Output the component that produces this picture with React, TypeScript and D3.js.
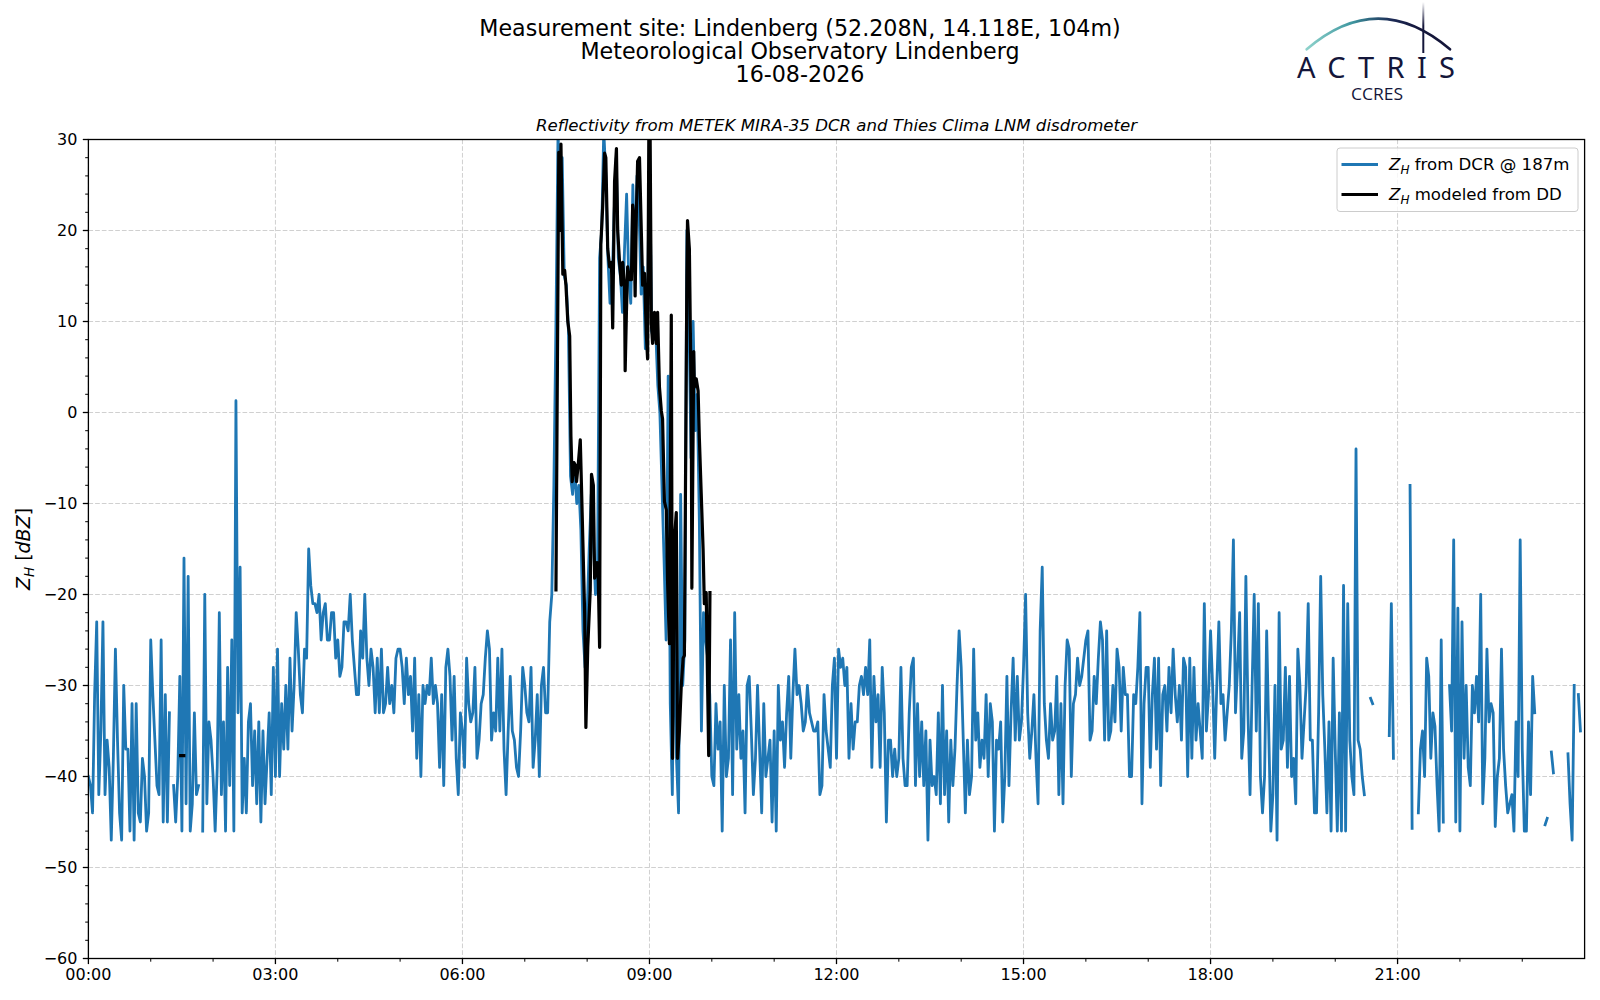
import React from 'react';
import * as d3 from 'd3';

// Z_H from the cloud radar at 187 m, one value every 2 minutes, one array per 3 hours (null = no data)
const dcr0003 = [
  -40, -41, -44, -31, -23, -42, -35, -23, -42, -36,
  -39, -47, -38, -26, -36, -44, -47, -30, -37, -37,
  -46, -32, -47, -32, -44, -45, -38, -40, -46, -44,
  -25, -31, -36, -41, -42, -25, -45, -31, -45, -33,
  null, -41, -45, -40, -29, -46, -16, -43, -18, -46,
  -43, -33, -42, -41, null, -46, -20, -43, -34, -36,
  -40, -46, -39, -22, -42, -34, -46, -28, -41, -25,
  -46, 1.3, -33, -17, -44, -38, -44, -34, -32, -41,
  -35, -43, -34, -45, -35, -43, -38, -33, -42, -28,
];
const dcr0306 = [
  -40, -26, -40, -32, -37, -30, -37, -27, -35, -30,
  -22, -26, -31, -33, -26, -27, -15, -19, -21, -21,
  -22, -20, -25, -22, -21, -25, -25, -22, -22, -27,
  -25, -29, -28, -23, -23, -24, -20, -25, -28, -31,
  -31, -24, -27, -20, -27, -30, -26, -28, -33, -27,
  -33, -26, -33, -32, -28, -32, -30, -33, -27, -26,
  -26, -28, -32, -27, -31, -29, -35, -27, -38, -31,
  -40, -30, -32, -30, -31, -27, -32, -30, -32, -39,
  -31, -41, -28, -26, -29, -36, -29, -38, -42, -33,
];
const dcr0609 = [
  -35, -39, -27, -32, -34, -33, -28, -38, -36, -32,
  -31, -27, -24, -26, -36, -33, -35, -27, -35, -26,
  -37, -42, -35, -29, -35, -36, -39, -40, -35, -28,
  -30, -33, -34, -28, -39, -36, -31, -40, -30, -28,
  -33, -33, -23, -20, -8, 10, 31, 22, 28, 15,
  14, 9, -7, -9, -6, -10, -8, -13, -24, -28,
  -22, -15, -9, -14, -20, -18, 17, 20, 31, 26,
  17, 12, 14, 22, 28, 17, 15, 11, 18, 24,
  15, 12, 25, 16, 26, 22, 13, 16, 7, 8,
];
const dcr0912 = [
  31, 9, 8, 9, 3, 0, -8, -16, -25, 4,
  -32, -42, -20, -38, -44, -9, -30, -25, 20, 10,
  -5, 10, -2, 2, -12, -35, -22, -25, -27, -31,
  -40, -41, -32, -37, -34, -46, -30, -40, -38, -25,
  -42, -22, -37, -31, -38, -35, -44, -30, -29, -35,
  -42, -38, -30, -37, -44, -32, -40, -38, -36, -45,
  -35, -46, -30, -36, -34, -39, -33, -29, -38, -31,
  -26, -31, -30, -32, -35, -34, -30, -33, -34, -35,
  -35, -34, -42, -41, -31, -35, -37, -39, -30, -27,
];
const dcr1215 = [
  -38, -26, -28, -27, -30, -28, -38, -32, -37, -34,
  -34, -30, -29, -31, -28, -31, -25, -39, -29, -34,
  -31, -39, -28, -33, -45, -36, -36, -40, -37, -40,
  -38, -28, -38, -41, -41, -33, -28, -27, -41, -32,
  -40, -34, -41, -35, -47, -36, -41, -40, -42, -33,
  -43, -30, -42, -35, -45, -36, -41, -37, -30, -24,
  -28, -36, -44, -36, -42, -40, -26, -36, -33, -39,
  -36, -38, -31, -40, -32, -34, -46, -36, -37, -34,
  -45, -40, -29, -41, -33, -27, -36, -29, -36, -34,
];
const dcr1518 = [
  -28, -20, -33, -38, -35, -31, -38, -43, -24, -17,
  -32, -36, -38, -32, -36, -35, -29, -42, -32, -43,
  -30, -25, -26, -40, -32, -31, -27, -30, -29, -27,
  -25, -24, -36, -35, -29, -32, -27, -23, -25, -36,
  -24, -36, -35, -30, -34, -26, -28, -35, -28, -31,
  -31, -40, -40, -31, -32, -28, -22, -43, -32, -28,
  -28, -39, -31, -27, -37, -27, -41, -31, -30, -35,
  -28, -33, -26, -31, -34, -30, -36, -27, -28, -40,
  -27, -38, -28, -36, -32, -35, -38, -21, -35, -31,
];
const dcr1821 = [
  -24, -30, -38, -30, -23, -32, -31, -36, -33, -30,
  -24, -14, -33, -28, -22, -38, -35, -18, -33, -42,
  -30, -20, -35, -21, -40, -44, -40, -24, -35, -46,
  -42, -30, -47, -22, -37, -36, -28, -39, -29, -40,
  -38, -43, -26, -30, -38, -34, -30, -21, -36, -36,
  -44, -44, -33, -18, -31, -37, -44, -34, -46, -27,
  -37, -46, -33, -46, -19, -46, -21, -36, -40, -42,
  -4, -36, -37, -40, -42, null, null, -31.4, -32, null,
  null, null, null, null, null, null, -35.5, -21, -38, null,
];
const dcr2124 = [
  null, null, null, null, null, null, -8, -45.7, null, null,
  -44, -37, -35, -40, -27, -29, -38, -33, -34.5, -41,
  -46, -25, -45, null, null, -30, -35, -14, -45, -21.5,
  -46, -23, -38, -30, -39, -41, -30, -33, -29, -34,
  -20, -43, -38, -26, -34, -32, -33, -45.5, -40, -38,
  -26, -37, -41, -44, -43, -42, -46, -34, -40, -14,
  -37, -46, -46, -34, -42, -29, -33, null, null, null,
  null, -45.3, -44.6, null, -37.3, -39.6, null, null, null, null,
  null, null, -37.5, -43, -47, -30, null, -31, -35, null,
];
const dcrBlocks = [dcr0003, dcr0306, dcr0609, dcr0912, dcr1215, dcr1518, dcr1821, dcr2124];
const dcrStepHours = 2 / 60;

// Z_H modelled from the disdrometer drop size distribution (hour of day, dBZ); null breaks the line
const ddHours = [
  1.48, 1.53, 1.55,
  7.5, 7.545, 7.57, 7.58, 7.61, 7.64, 7.66, 7.69, 7.72, 7.74, 7.76, 7.79, 7.81, 7.83, 7.86, 7.89,
  7.92, 7.96, 7.98, 8.01, 8.05, 8.07, 8.1, 8.12, 8.16, 8.18, 8.2, 8.22, 8.25, 8.28, 8.3, 8.33,
  8.36, 8.39, 8.41, 8.44, 8.47, 8.49, 8.52, 8.55, 8.57, 8.6, 8.61, 8.63, 8.65, 8.68, 8.71, 8.73,
  8.75, 8.77, 8.79, 8.81, 8.84, 8.87, 8.89, 8.92, 8.95, 8.97, 8.99, 9.01, 9.03, 9.05, 9.08, 9.11,
  9.13, 9.16, 9.19, 9.21, 9.24, 9.27, 9.29, 9.32, 9.35, 9.37, 9.4, 9.43, 9.45, 9.48, 9.51, 9.54,
  9.56, 9.6, 9.61, 9.64, 9.67, 9.68, 9.71, 9.72, 9.75, 9.78, 9.8, 9.83, 9.86, 9.88, 9.91, 9.95, 9.97,
];
const ddValues = [
  -37.7, -37.7, null,
  -19.5, 28.6, 20, 29.5, 15.2, 15.6, 14, 10, 8.4, -2.6, -7.6, -5.5, -5.8, -7.6, -5.5, -3,
  -11, -22, -34.6, -25.8, -19.5, -6.8, -8, -18.2, -16.5, -18.6, -25.8, 18.5, 22.7, 28.5, 28, 18,
  16, 16.5, 9.3, 25.4, 29, 20, 16.5, 14, 16.5, 14, 4.6, 11, 16, 14.6, 14.6, 22.8,
  21.5, 12.8, 22, 27.6, 28, 19.7, 14, 15.3, 8.5, 5.9, 31, 31, 9.8, 7.6, 11, 7.6,
  11, 2.8, 0.2, -0.7, -9.8, -10.7, -18.5, -25.4, 10.7, -38, -14, -11, -38, -35, -30, -27,
  -26.7, 15, 21.1, 18, 0.7, -19.3, 6.7, 2.8, 3.7, 2.4, -2.8, -8.9, -15, -21, -19.8, -37.7, -19.8,
];

const xTickHours = [0, 3, 6, 9, 12, 15, 18, 21];
const xTickLabels = ['00:00', '03:00', '06:00', '09:00', '12:00', '15:00', '18:00', '21:00'];
const yTicks = [-60, -50, -40, -30, -20, -10, 0, 10, 20, 30];

const titleLines = [
  'Measurement site: Lindenberg (52.208N, 14.118E, 104m)',
  'Meteorological Observatory Lindenberg',
  '16-08-2026',
];
const axesTitle = 'Reflectivity from METEK MIRA-35 DCR and Thies Clima LNM disdrometer';
const legendTexts = [' from DCR @ 187m', ' modeled from DD'];

const FONT = 'DejaVu Sans, sans-serif';
const BLUE = '#1f77b4';

type Pt = { h: number; v: number | null };

export default function App() {
  const left = 88.4, right = 1584.6, top = 139.5, bottom = 958.5;
  const x = d3.scaleLinear().domain([0, 24]).range([left, right]);
  const y = d3.scaleLinear().domain([-60, 30]).range([bottom, top]);

  const dcrPoints: Pt[] = dcrBlocks.flatMap((blk, b) =>
    blk.map((v, i) => ({ h: b * 3 + i * dcrStepHours, v })));
  const ddPoints: Pt[] = ddHours.map((h, i) => ({ h, v: ddValues[i] }));

  const line = d3.line<Pt>()
    .defined(d => d.v != null)
    .x(d => x(d.h))
    .y(d => y(d.v as number));

  const xMinor = d3.range(0, 25, 1).filter(h => h % 3 !== 0);
  const yMinor = d3.range(-60, 31, 2).filter(v => v % 10 !== 0);

  const legX = 1337, legY = 148;

  return (
    <svg width={1600} height={1000} style={{ position: 'absolute', left: 0, top: 0, display: 'block', background: '#fff' }}
      fontFamily={FONT}>
      <defs>
        <clipPath id="plot-clip">
          <rect x={left} y={top} width={right - left} height={bottom - top} />
        </clipPath>
        <linearGradient id="arc-grad" gradientUnits="userSpaceOnUse" x1={1306} y1={0} x2={1420} y2={0}>
          <stop offset="0%" stopColor="#8fd3cc" />
          <stop offset="40%" stopColor="#3f97a0" />
          <stop offset="75%" stopColor="#1c2a55" />
          <stop offset="100%" stopColor="#14163a" />
        </linearGradient>
        <linearGradient id="mast-grad" gradientUnits="userSpaceOnUse" x1={0} y1={2} x2={0} y2={26}>
          <stop offset="0%" stopColor="#14163a" stopOpacity={0} />
          <stop offset="100%" stopColor="#14163a" stopOpacity={1} />
        </linearGradient>
      </defs>

      {/* figure title */}
      {titleLines.map((t, i) => (
        <text key={t} x={800} y={36 + i * 23} textAnchor="middle" fontSize={22.2} fill="#000">{t}</text>
      ))}

      {/* ACTRIS logo */}
      <path d="M1306.7,49.3 Q1378,-12 1450,49.3" fill="none" stroke="url(#arc-grad)" strokeWidth={2.6} strokeLinecap="round" />
      <line x1={1423.3} x2={1423.3} y1={2} y2={53} stroke="url(#mast-grad)" strokeWidth={2} />
      <text x={1297} y={77.5} fontFamily="Noto Sans, sans-serif" fontSize={29} fill="#14163a"
        textLength={158} lengthAdjust="spacing">ACTRIS</text>
      <text x={1351} y={100} fontFamily="Open Sans, sans-serif" fontSize={16} fill="#14163a"
        textLength={52} lengthAdjust="spacingAndGlyphs">CCRES</text>

      {/* axes title */}
      <text x={(left + right) / 2} y={131} textAnchor="middle" fontSize={16.6} fontStyle="italic">{axesTitle}</text>

      {/* grid */}
      {xTickHours.map(h => (
        <line key={'gx' + h} x1={x(h)} x2={x(h)} y1={top} y2={bottom} stroke="#d0d0d0" strokeWidth={1} strokeDasharray="4.7 2" />
      ))}
      {yTicks.map(v => (
        <line key={'gy' + v} x1={left} x2={right} y1={y(v)} y2={y(v)} stroke="#d0d0d0" strokeWidth={1} strokeDasharray="4.7 2" />
      ))}

      {/* data */}
      <g clipPath="url(#plot-clip)" fill="none" strokeLinejoin="round" strokeLinecap="square">
        <path d={line(dcrPoints) ?? ''} stroke={BLUE} strokeWidth={2.8} />
        <path d={line(ddPoints) ?? ''} stroke="#000" strokeWidth={3.2} />
      </g>

      {/* frame */}
      <rect x={left} y={top} width={right - left} height={bottom - top} fill="none" stroke="#000" strokeWidth={1.3} />

      {/* x axis */}
      {xTickHours.map((h, i) => (
        <g key={'xt' + h}>
          <line x1={x(h)} x2={x(h)} y1={bottom} y2={bottom + 5.6} stroke="#000" strokeWidth={1.3} />
          <text x={x(h)} y={980} textAnchor="middle" fontSize={16}>{xTickLabels[i]}</text>
        </g>
      ))}
      {xMinor.map(h => (
        <line key={'xm' + h} x1={x(h)} x2={x(h)} y1={bottom} y2={bottom + 3.2} stroke="#000" strokeWidth={1} />
      ))}

      {/* y axis */}
      {yTicks.map(v => (
        <g key={'yt' + v}>
          <line x1={left - 5.6} x2={left} y1={y(v)} y2={y(v)} stroke="#000" strokeWidth={1.3} />
          <text x={left - 11} y={y(v)} textAnchor="end" dominantBaseline="central" fontSize={16}>
            {v < 0 ? '\u2212' + Math.abs(v) : String(v)}
          </text>
        </g>
      ))}
      {yMinor.map(v => (
        <line key={'ym' + v} x1={left - 3.2} x2={left} y1={y(v)} y2={y(v)} stroke="#000" strokeWidth={1} />
      ))}
      <text transform={`translate(30,${(top + bottom) / 2}) rotate(-90)`} textAnchor="middle" fontSize={19}>
        <tspan fontStyle="italic">Z</tspan>
        <tspan fontStyle="italic" fontSize={13.5} dy={4}>H</tspan>
        <tspan dy={-4}> [</tspan>
        <tspan fontStyle="italic">dBZ</tspan>
        <tspan>]</tspan>
      </text>

      {/* legend */}
      <rect x={legX} y={legY} width={241} height={63.5} rx={3} fill="#fff" fillOpacity={0.8} stroke="#cccccc" strokeWidth={1} />
      {legendTexts.map((t, i) => {
        const ly = legY + 16.5 + i * 30;
        return (
          <g key={t}>
            <line x1={legX + 4.5} x2={legX + 41} y1={ly} y2={ly} stroke={i === 0 ? BLUE : '#000'} strokeWidth={i === 0 ? 2.8 : 3.2} />
            <text x={legX + 52} y={ly + 5.5} fontSize={16.6}>
              <tspan fontStyle="italic">Z</tspan>
              <tspan fontStyle="italic" fontSize={12} dy={3.5}>H</tspan>
              <tspan dy={-3.5}>{t}</tspan>
            </text>
          </g>
        );
      })}
    </svg>
  );
}
